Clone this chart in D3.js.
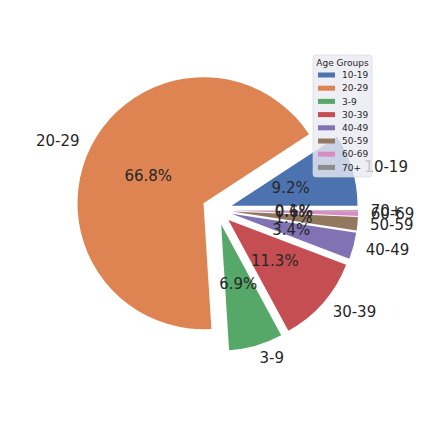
<!DOCTYPE html>
<html>
<head>
<meta charset="utf-8">
<script src="https://cdn.jsdelivr.net/npm/d3@7"></script>
<style>
  body { margin: 0; background: #fff; }
  text { font-family: "DejaVu Sans", sans-serif; fill: #262626; }
</style>
</head>
<body>
<div id="chart"></div>
<script>
var groups = ["10-19", "20-29", "3-9", "30-39", "40-49", "50-59", "60-69", "70+"]
var shares = [9.2, 66.8, 6.9, 11.3, 3.4, 1.7, 0.6, 0.1]
var colors = ["#4C72B0", "#DD8452", "#55A868", "#C44E52", "#8172B3", "#937860", "#DA8BC3", "#8C8C8C"]

var width = 423, height = 423,
    cx = 217, cy = 210,
    radius = 126,
    explode = 0.12,
    labelDistance = 1.1,
    pctDistance = 0.49

var svg = d3.select("#chart").append("svg")
    .attr("width", width)
    .attr("height", height)

// matplotlib style: start at 3 o'clock, go counterclockwise
var pie = d3.pie()
    .sort(null)
    .value(function(d) { return d.value })
    .startAngle(Math.PI/2)
    .endAngle(Math.PI/2 - 2*Math.PI)

var arc = d3.arc().innerRadius(0).outerRadius(radius)

var slices = pie(groups.map(function(g, i) { return { name: g, value: shares[i], color: colors[i] } }))

slices.forEach(function(d) {
  var mid = (d.startAngle + d.endAngle) / 2
  d.dx = Math.sin(mid)
  d.dy = -Math.cos(mid)
  d.ox = cx + explode*radius*d.dx
  d.oy = cy + explode*radius*d.dy
})

var g = svg.append("g")

g.selectAll("path.wedge")
    .data(slices)
  .enter().append("path")
    .attr("class", "wedge")
    .attr("transform", function(d) { return "translate("+d.ox+","+d.oy+")" })
    .attr("d", arc)
    .style("fill", function(d) { return d.data.color })

g.selectAll("text.label")
    .data(slices)
  .enter().append("text")
    .attr("class", "label")
    .attr("x", function(d) { return d.ox + labelDistance*radius*d.dx })
    .attr("y", function(d) { return d.oy + labelDistance*radius*d.dy })
    .attr("dy", "0.36em")
    .attr("text-anchor", function(d) { return d.dx > 0 ? "start" : "end" })
    .style("font-size", "15px")
    .text(function(d) { return d.data.name })

g.selectAll("text.pct")
    .data(slices)
  .enter().append("text")
    .attr("class", "pct")
    .attr("x", function(d) { return d.ox + pctDistance*radius*d.dx })
    .attr("y", function(d) { return d.oy + pctDistance*radius*d.dy })
    .attr("dy", "0.36em")
    .attr("text-anchor", "middle")
    .style("font-size", "15px")
    .text(function(d) { return d.data.value.toFixed(1) + "%" })

// legend
var legend = svg.append("g").attr("transform", "translate(313,55)")

legend.append("rect")
    .attr("width", 59)
    .attr("height", 122)
    .attr("rx", 3)
    .style("fill", "#EAEAF2")
    .style("fill-opacity", 0.8)
    .style("stroke", "#d6d6d6")
    .style("stroke-opacity", 0.8)
    .style("stroke-width", 0.8)

legend.append("text")
    .attr("x", 29.5)
    .attr("y", 8)
    .attr("dy", "0.36em")
    .attr("text-anchor", "middle")
    .style("font-size", "9px")
    .text("Age Groups")

var item = legend.selectAll("g.item")
    .data(slices)
  .enter().append("g")
    .attr("class", "item")
    .attr("transform", function(d, i) { return "translate(0,"+(20 + i*13.2)+")" })

item.append("rect")
    .attr("x", 5)
    .attr("y", -2.5)
    .attr("width", 17)
    .attr("height", 5)
    .style("fill", function(d) { return d.data.color })

item.append("text")
    .attr("x", 29)
    .attr("dy", "0.36em")
    .style("font-size", "9px")
    .text(function(d) { return d.data.name })
</script>
</body>
</html>
